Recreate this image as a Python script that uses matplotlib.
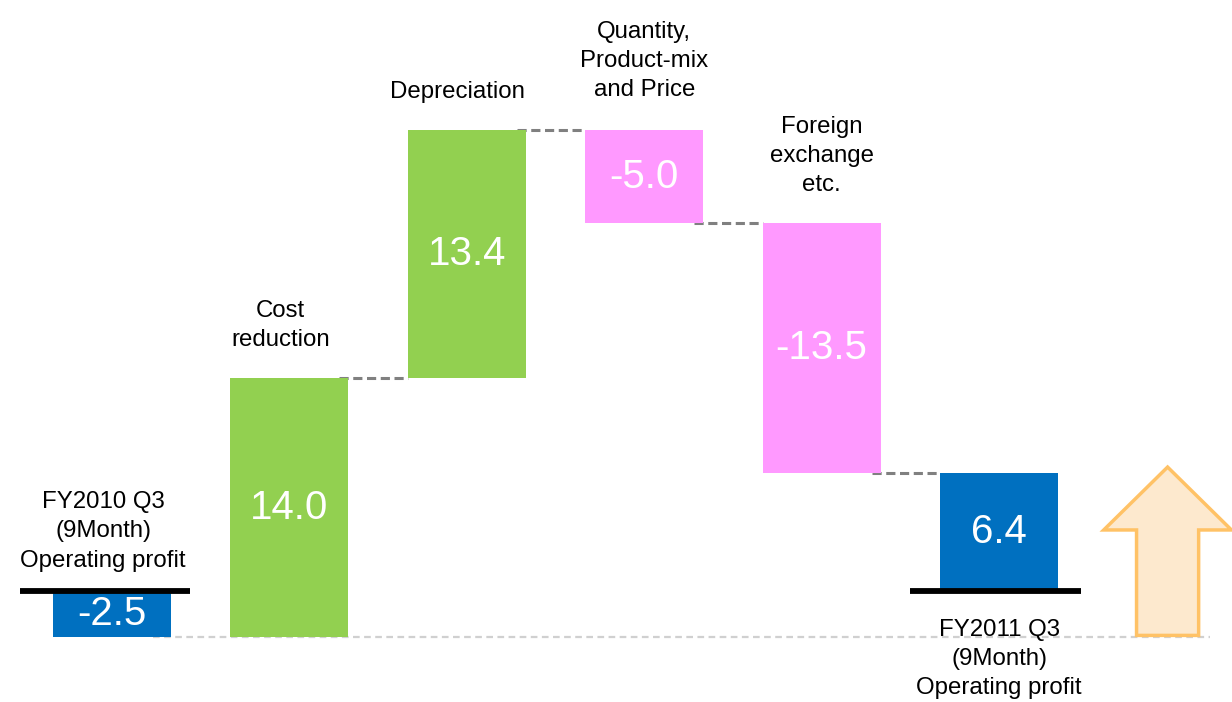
import matplotlib
matplotlib.use("Agg")
import matplotlib.pyplot as plt
from matplotlib.patches import FancyArrow

plt.rcParams["font.family"] = ["Liberation Sans", "DejaVu Sans"]

# waterfall data (billion yen)
categories = ["FY2010 Q3\n(9Month)\nOperating profit",
              "Cost\nreduction",
              "Depreciation",
              "Quantity,\nProduct-mix\nand Price",
              "Foreign\nexchange\netc.",
              "FY2011 Q3\n(9Month)\nOperating profit"]
values = [-2.5, 14.0, 13.4, -5.0, -13.5, 6.4]
is_total = [True, False, False, False, False, True]

BLUE = "#0070C0"
GREEN = "#92D050"
PINK = "#FF99FF"


def plot_waterfall():
    fig = plt.figure(figsize=(12.32, 7.02), dpi=100)
    ax = fig.add_axes([0, 0, 1, 1])
    ax.set_xlim(-0.631, 6.313)
    ax.set_ylim(-6.0, 31.95)
    ax.axis("off")

    width = 0.665
    bottoms, heights, colors = [], [], []
    cum = 0.0
    for v, tot in zip(values, is_total):
        if tot:
            bottoms.append(0.0)
            heights.append(v)
            colors.append(BLUE)
            cum = v
        else:
            bottoms.append(cum)
            heights.append(v)
            colors.append(GREEN if v > 0 else PINK)
            cum += v

    xs = list(range(len(values)))
    ax.bar(xs, heights, bottom=bottoms, width=width, color=colors, zorder=3)

    # baseline at starting level
    ax.plot([0.23, 6.19], [values[0], values[0]], color="#D0D0D0",
            linestyle=(0, (3, 2)), linewidth=1.6, zorder=1)

    # connectors between bars
    for i in range(1, len(values) - 1):
        level = bottoms[i] + heights[i]
        ax.plot([xs[i] + width / 2 - 0.05, xs[i + 1] - width / 2],
                [level, level], color="#808080",
                linestyle=(0, (3, 1.5)), linewidth=2.2, zorder=2)

    # black zero lines under the totals
    ax.plot([xs[0] - 0.52, xs[0] + 0.44], [0, 0], color="black",
            linewidth=4.2, zorder=4, solid_capstyle="butt")
    ax.plot([xs[-1] - 0.50, xs[-1] + 0.46], [0, 0], color="black",
            linewidth=4.2, zorder=4, solid_capstyle="butt")

    # values inside bars
    for x, b, h in zip(xs, bottoms, heights):
        ax.text(x, b + h / 2, f"{h:.1f}", color="white", fontsize=29,
                ha="center", va="center", zorder=5)

    # category labels
    for i, (x, b, h, name) in enumerate(zip(xs, bottoms, heights, categories)):
        top = max(b, b + h)
        if i == 0:
            ax.annotate(name, (x - 0.05, 0), xytext=(0, 14), textcoords="offset points",
                        ha="center", va="bottom", fontsize=17.3, linespacing=1.42)
        elif i == len(values) - 1:
            ax.annotate(name, (x, 0), xytext=(0, -20), textcoords="offset points",
                        ha="center", va="top", fontsize=17.3, linespacing=1.42)
        else:
            off = 21 if i == 3 else 19.5
            ax.annotate(name, (x - 0.05 if i < 3 else x, top), xytext=(0, off),
                        textcoords="offset points", ha="center", va="bottom",
                        fontsize=17.3, linespacing=1.42)

    # up arrow on the right
    ax.add_patch(FancyArrow(5.95, values[0] + 0.1, 0, 6.4 + 2.5 + 0.2,
                            width=0.35, head_width=0.72, head_length=3.4,
                            length_includes_head=True, facecolor="#FDE9CE",
                            edgecolor="#FFC266", linewidth=2.5, zorder=3))

    fig.savefig("out.png", dpi=100)


if __name__ == "__main__":
    plot_waterfall()
